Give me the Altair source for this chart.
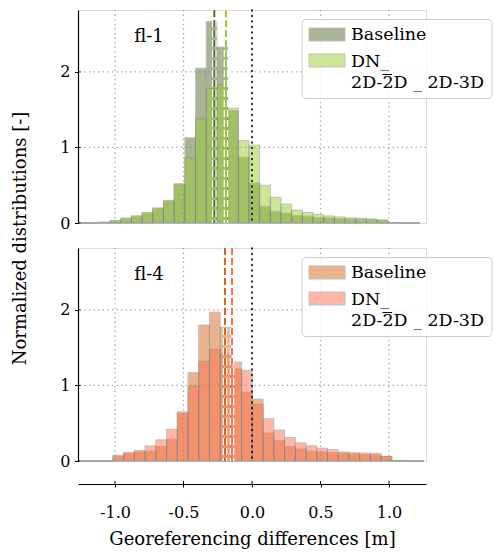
import altair as alt
import pandas as pd

# ---------------- data ----------------
series_names = ["Baseline", "DN"]
flights = ["fl-1", "fl-4"]

# histogram bin layout per flight (left edge of first bin, bin width)
fl1_first_edge = -1.27
fl1_bin_width = 0.078
fl4_first_edge = -1.25
fl4_bin_width = 0.0783

# normalized densities (32 bins each)
fl1_baseline = [0.003, 0.003, 0.01, 0.025, 0.055, 0.085, 0.13, 0.19, 0.29, 0.51,
                1.13, 2.05, 2.67, 2.33, 1.49, 0.87, 0.53, 0.22, 0.155, 0.13,
                0.10, 0.09, 0.07, 0.066, 0.057, 0.053, 0.05, 0.044, 0.035, 0.005,
                0.003, 0.002]
fl1_dn = [0.003, 0.003, 0.01, 0.034, 0.066, 0.097, 0.14, 0.20, 0.30, 0.52,
          0.86, 1.38, 1.78, 1.83, 1.52, 1.09, 1.03, 0.50, 0.34, 0.25,
          0.17, 0.14, 0.115, 0.093, 0.08, 0.066, 0.062, 0.053, 0.04, 0.005,
          0.003, 0.002]
fl4_baseline = [0.003, 0.003, 0.003, 0.06, 0.10, 0.12, 0.13, 0.19, 0.29, 0.63,
                1.17, 1.80, 1.97, 1.77, 1.22, 0.91, 0.82, 0.37, 0.27, 0.19,
                0.16, 0.13, 0.12, 0.11, 0.10, 0.09, 0.085, 0.08, 0.06, 0.005,
                0.004, 0.003]
fl4_dn = [0.003, 0.003, 0.003, 0.075, 0.115, 0.14, 0.20, 0.28, 0.42, 0.65,
          0.99, 1.32, 1.48, 1.42, 1.31, 1.20, 0.75, 0.56, 0.41, 0.31,
          0.24, 0.20, 0.17, 0.15, 0.12, 0.11, 0.105, 0.10, 0.06, 0.005,
          0.004, 0.003]

# mean differences (dashed lines)
fl1_means = [-0.275, -0.19]
fl4_means = [-0.197, -0.146]

x_ticks = [-1.0, -0.5, 0.0, 0.5, 1.0]
x_grid = [-1.0, -0.5, 0.5, 1.0]
y_ticks = [0, 1, 2]
y_grid = [1, 2]
legend_labels = ["Baseline", "DN_", "2D-2D _ 2D-3D"]

fl1_colors = ["#556b2f", "#9acd32"]
fl4_colors = ["#d2691e", "#ff704c"]

# ---------------- layout ----------------
W, H = 348, 213
X_DOMAIN = [-1.27, 1.27]
Y_DOMAIN = [0, 2.82]
FONT = "DejaVu Serif"
X_OFFSET = 23


def panel(label, first_edge, width, base, dn, means, colors, bottom, ytitle):
    n = len(base)
    x0 = [first_edge + i * width for i in range(n)]
    x1 = [v + width for v in x0]
    df = pd.DataFrame({
        "x0": x0 + x0,
        "x1": x1 + x1,
        "density": base + dn,
        "series": [series_names[0]] * n + [series_names[1]] * n,
    })
    xs = alt.Scale(domain=X_DOMAIN, nice=False, zero=False)
    ys = alt.Scale(domain=Y_DOMAIN, nice=False, zero=False)
    cs = alt.Scale(domain=series_names, range=colors)
    if bottom:
        xaxis = alt.Axis(values=x_ticks, offset=X_OFFSET, title="Georeferencing differences [m]",
                         grid=False, tickSize=3, labelPadding=17, titlePadding=10,
                         labelExpr="datum.value < 0 ? '-' + format(-datum.value, '.1f') : format(datum.value, '.1f')",
                         domainColor="black", tickColor="black", domainWidth=1.2,
                         labelFontSize=16, titleFontSize=18, titleFontWeight="normal",
                         labelColor="black", titleColor="black", labelFont=FONT, titleFont=FONT)
    else:
        xaxis = None
    yaxis = alt.Axis(values=y_ticks, format="d", grid=False, title=None, tickSize=3.5,
                     labelPadding=4.5, domainColor="black", tickColor="black", domainWidth=1.2,
                     labelFontSize=16, labelColor="black", labelFont=FONT)

    def X(field):
        return alt.X(field, type="quantitative", scale=xs, axis=xaxis)

    def Y(field):
        return alt.Y(field, type="quantitative", scale=ys, axis=yaxis)

    grid_v = alt.Chart(pd.DataFrame({"g": x_grid})).mark_rule(
        color="#a0a0a0", strokeDash=[1.3, 3.3], strokeWidth=1.3).encode(x=X("g"))
    grid_h = alt.Chart(pd.DataFrame({"h": y_grid})).mark_rule(
        color="#a0a0a0", strokeDash=[1.3, 3.3], strokeWidth=1.3).encode(y=Y("h"))

    bars = alt.Chart(df).mark_rect(opacity=0.5, stroke="grey", strokeWidth=1).encode(
        x=X("x0"), x2="x1", y=Y("density"), y2=alt.datum(0),
        color=alt.Color("series:N", scale=cs, legend=None))

    zero = alt.Chart(pd.DataFrame({"z": [0.0]})).mark_rule(
        color="black", strokeDash=[1, 4.5], strokeWidth=1.6, strokeCap="round").encode(x=X("z"))

    mdf = pd.DataFrame({"m": means, "series": series_names})
    halo = alt.Chart(mdf).mark_rule(color="white", strokeWidth=4.5, strokeDash=[7, 3]).encode(x=X("m"))
    mlines = alt.Chart(mdf).mark_rule(strokeWidth=2, strokeDash=[7, 3]).encode(
        x=X("m"), color=alt.Color("series:N", scale=cs, legend=None))

    # inward halves of the tick marks (ticks cross the spines)
    ytick_in = alt.Chart(pd.DataFrame({"t": y_ticks})).mark_rule(color="black", strokeWidth=1).encode(
        y=Y("t"), x=alt.value(0), x2=alt.value(2.5))
    extra = [ytick_in]
    if bottom:
        xtick_in = alt.Chart(pd.DataFrame({"t": x_ticks})).mark_rule(color="black", strokeWidth=1).encode(
            x=X("t"), y=alt.value(H + X_OFFSET - 3), y2=alt.value(H + X_OFFSET))
        extra.append(xtick_in)

    one = alt.Data(values=[{"a": 1}])
    txt = alt.Chart(one).mark_text(text=label, fontSize=18, align="center", baseline="alphabetic",
                                   font=FONT, color="black").encode(x=alt.value(71), y=alt.value(31.5))

    box = alt.Chart(one).mark_rect(fill="white", fillOpacity=0.8, stroke="#cccccc", strokeWidth=1,
                                   cornerRadius=4).encode(
        x=alt.value(224), x2=alt.value(414), y=alt.value(9.5), y2=alt.value(88.5))
    sw1 = alt.Chart(one).mark_rect(fill=colors[0], opacity=0.5, stroke="grey", strokeWidth=1).encode(
        x=alt.value(231), x2=alt.value(267), y=alt.value(18), y2=alt.value(31))
    sw2 = alt.Chart(one).mark_rect(fill=colors[1], opacity=0.5, stroke="grey", strokeWidth=1).encode(
        x=alt.value(231), x2=alt.value(267), y=alt.value(44), y2=alt.value(57))
    lt = []
    for s, yy in zip(legend_labels, [30, 56.5, 78]):
        lt.append(alt.Chart(one).mark_text(text=s, fontSize=17.5, align="left", baseline="alphabetic",
                                           font=FONT, color="black").encode(
            x=alt.value(273), y=alt.value(yy)))
    # small bar over the second "2" of the second label line
    overbar = alt.Chart(one).mark_rule(color="black", strokeWidth=1).encode(
        x=alt.value(304.5), x2=alt.value(314), y=alt.value(64.5))

    layers = [grid_v, grid_h, bars, zero, halo, mlines] + extra + [txt, box, sw1, sw2] + lt + [overbar]
    if ytitle:
        layers.append(alt.Chart(one).mark_text(text="Normalized distributions [-]", fontSize=18,
                                               angle=270, align="center", baseline="middle",
                                               font=FONT, color="black").encode(
            x=alt.value(-57.3), y=alt.value(228.5)))
    return alt.layer(*layers).properties(width=W, height=H)


top = panel(flights[0], fl1_first_edge, fl1_bin_width, fl1_baseline, fl1_dn, fl1_means,
            fl1_colors, False, True)
bottom = panel(flights[1], fl4_first_edge, fl4_bin_width, fl4_baseline, fl4_dn, fl4_means,
               fl4_colors, True, False)

chart = alt.vconcat(top, bottom, spacing=25, bounds="flush").resolve_scale(
    x="independent", y="independent", color="independent").resolve_axis(
    x="independent", y="independent").properties(
    padding={"left": 11, "top": 7, "right": 0, "bottom": 4}
).configure_view(stroke=None).configure(font=FONT, background="white")

chart.save("out.html", embed_options={"renderer": "svg", "actions": False})
